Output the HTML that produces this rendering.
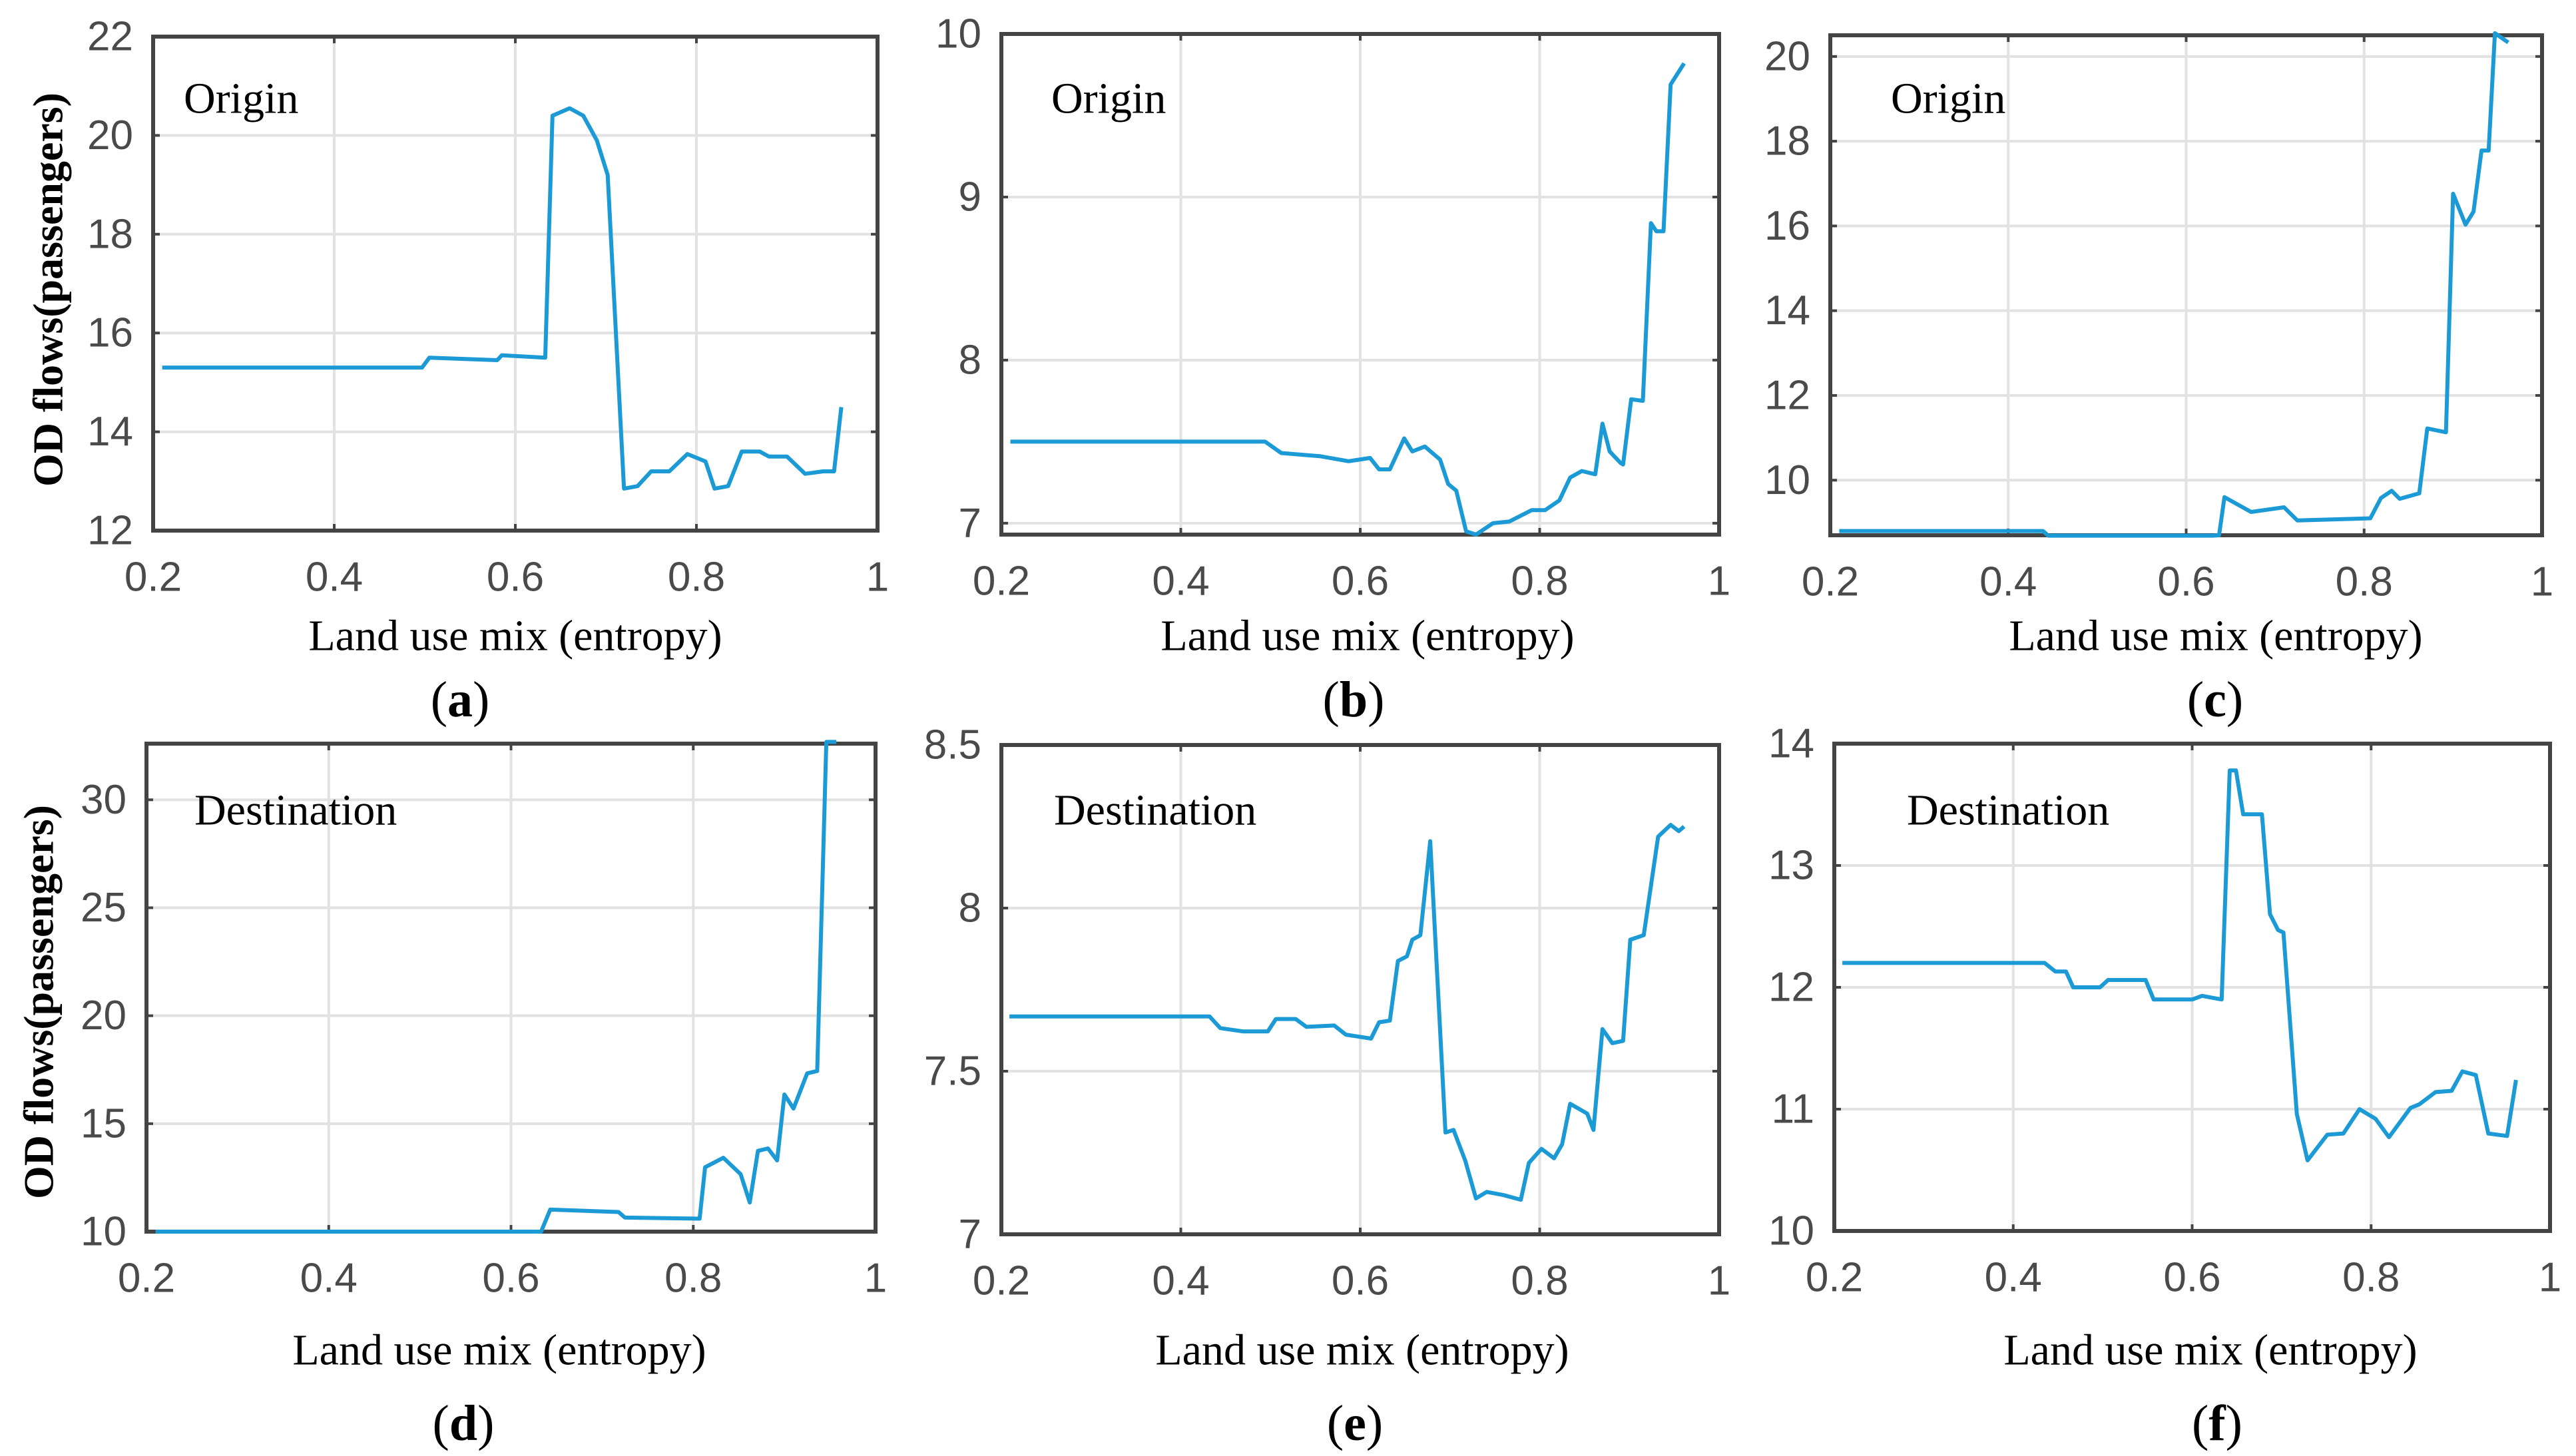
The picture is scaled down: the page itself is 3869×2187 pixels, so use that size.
<!DOCTYPE html>
<html><head><meta charset="utf-8"><style>
html,body{margin:0;padding:0;background:#fff;}
svg{display:block;}
.tick{font-family:"Liberation Sans",sans-serif;font-size:62px;fill:#4a4a4a;}
.title{font-family:"Liberation Serif",serif;font-size:66px;fill:#000;}
.ytitle{font-family:"Liberation Serif",serif;font-size:64px;fill:#000;font-weight:bold;}
.plab{font-family:"Liberation Serif",serif;font-size:76px;fill:#000;}
</style></head><body>
<svg id="fig" width="3869" height="2187" viewBox="0 0 3869 2187" xmlns="http://www.w3.org/2000/svg"></svg>
<script>
const xTicks = [0.2, 0.4, 0.6, 0.8, 1];
const xTickLabels = ["0.2", "0.4", "0.6", "0.8", "1"];
const xsA = [0.21,0.497,0.505,0.58,0.585,0.633,0.641,0.66,0.675,0.69,0.702,0.72,0.735,0.75,0.77,0.79,0.81,0.82,0.835,0.85,0.87,0.88,0.90,0.92,0.94,0.952,0.96];
const ysA = [15.3,15.3,15.5,15.45,15.55,15.5,20.4,20.55,20.4,19.9,19.2,12.85,12.9,13.2,13.2,13.55,13.4,12.85,12.9,13.6,13.6,13.5,13.5,13.15,13.2,13.2,14.5];
const xsB = [0.21,0.494,0.512,0.556,0.587,0.611,0.621,0.633,0.649,0.658,0.672,0.689,0.698,0.707,0.718,0.729,0.748,0.766,0.791,0.806,0.822,0.834,0.847,0.862,0.870,0.878,0.890,0.893,0.902,0.915,0.924,0.930,0.938,0.946,0.961];
const ysB = [7.5,7.5,7.43,7.41,7.38,7.4,7.33,7.33,7.52,7.44,7.47,7.39,7.24,7.2,6.95,6.93,7.0,7.01,7.08,7.08,7.14,7.28,7.32,7.3,7.61,7.44,7.37,7.36,7.76,7.75,8.84,8.79,8.79,9.69,9.82];
const xsC = [0.21,0.439,0.445,0.63,0.637,0.643,0.673,0.71,0.725,0.807,0.819,0.831,0.84,0.862,0.871,0.892,0.9,0.914,0.923,0.932,0.94,0.947,0.962];
const ysC = [8.8,8.8,8.69,8.69,8.7,9.6,9.25,9.36,9.05,9.1,9.58,9.75,9.56,9.69,11.22,11.13,16.76,16.03,16.34,17.78,17.78,20.55,20.33];
const xsD = [0.21,0.633,0.643,0.718,0.725,0.807,0.813,0.833,0.852,0.862,0.871,0.882,0.892,0.9,0.91,0.925,0.936,0.946,0.957];
const ysD = [10.0,10.0,11.02,10.91,10.65,10.6,12.98,13.42,12.66,11.35,13.74,13.85,13.3,16.35,15.7,17.33,17.44,32.68,32.68];
const xsE = [0.209,0.432,0.444,0.469,0.497,0.506,0.528,0.54,0.571,0.584,0.612,0.621,0.633,0.642,0.652,0.658,0.667,0.678,0.695,0.704,0.717,0.729,0.741,0.76,0.779,0.788,0.802,0.816,0.825,0.834,0.853,0.86,0.87,0.881,0.893,0.901,0.916,0.932,0.946,0.955,0.961];
const ysE = [7.668,7.668,7.632,7.622,7.622,7.66,7.66,7.636,7.64,7.612,7.6,7.65,7.655,7.838,7.852,7.903,7.917,8.205,7.312,7.32,7.226,7.11,7.13,7.12,7.106,7.219,7.262,7.233,7.276,7.40,7.37,7.32,7.629,7.586,7.593,7.903,7.917,8.219,8.255,8.236,8.25];
const xsF = [0.209,0.435,0.447,0.459,0.467,0.497,0.506,0.548,0.557,0.6,0.611,0.633,0.642,0.649,0.657,0.678,0.687,0.696,0.702,0.717,0.729,0.751,0.769,0.787,0.805,0.82,0.844,0.854,0.872,0.89,0.902,0.917,0.931,0.952,0.962];
const ysF = [12.2,12.2,12.13,12.13,12.0,12.0,12.06,12.06,11.9,11.9,11.93,11.9,13.78,13.78,13.42,13.42,12.6,12.47,12.45,10.96,10.58,10.79,10.8,11.0,10.92,10.77,11.01,11.04,11.14,11.15,11.31,11.28,10.8,10.78,11.24];
const yTicksA = [12,14,16,18,20,22];
const yTicksB = [7,8,9,10];
const yTicksC = [10,12,14,16,18,20];
const yTicksD = [10,15,20,25,30];
const yTicksE = [7,7.5,8,8.5];
const yTickLabelsE = ["7","7.5","8","8.5"];
const yTicksF = [10,11,12,13,14];

const NS = "http://www.w3.org/2000/svg";
const svg = document.getElementById('fig');
function mk(tag, attrs, parent){
  const e = document.createElementNS(NS, tag);
  for (const k in attrs) e.setAttribute(k, attrs[k]);
  (parent||svg).appendChild(e);
  return e;
}
const panels = [
  {id:'a', L:230,R:1318,T:55,B:797, y0:12,y1:22, xs:xsA, ys:ysA, yt:yTicksA, ytl:null, label:'Origin', lx:276, ly:148, tx:774, ty:955, px:691, py:1051, ytitle:true, ytx:72, yty:435},
  {id:'b', L:1504,R:2582,T:51,B:803, y0:6.93,y1:10, xs:xsB, ys:ysB, yt:yTicksB, ytl:null, label:'Origin', lx:1579, ly:148, tx:2054, ty:955, px:2033, py:1051},
  {id:'c', L:2749,R:3818,T:53,B:804, y0:8.7,y1:20.5, xs:xsC, ys:ysC, yt:yTicksC, ytl:null, label:'Origin', lx:2840, ly:148, tx:3328, ty:955, px:3327, py:1051},
  {id:'d', L:220,R:1315,T:1117,B:1850, y0:10,y1:32.6, xs:xsD, ys:ysD, yt:yTicksD, ytl:null, label:'Destination', lx:292, ly:1217, tx:750, ty:2028, px:696, py:2138, ytitle:true, ytx:58, yty:1505},
  {id:'e', L:1504,R:2582,T:1119,B:1854, y0:7,y1:8.5, xs:xsE, ys:ysE, yt:yTicksE, ytl:yTickLabelsE, label:'Destination', lx:1583, ly:1217, tx:2046, ty:2028, px:2035, py:2138},
  {id:'f', L:2755,R:3830,T:1117,B:1849, y0:10,y1:14, xs:xsF, ys:ysF, yt:yTicksF, ytl:null, label:'Destination', lx:2864, ly:1217, tx:3320, ty:2028, px:3330, py:2138}
];
panels.forEach(p=>{
  const g = mk('g',{});
  
  
  const xf = v => p.L + (v-0.2)/(1-0.2)*(p.R-p.L);
  const yf = v => p.B - (v-p.y0)/(p.y1-p.y0)*(p.B-p.T);
  const cp = mk('clipPath',{id:'clip-'+p.id}, g);
  mk('rect',{x:p.L,y:p.T-6,width:p.R-p.L,height:p.B-p.T+12}, cp);
  xTicks.forEach((t,i)=>{
    const X = xf(t);
    if (i>0 && i<xTicks.length-1){
      const gl = mk('line',{x1:X,x2:X,y1:p.T,y2:p.B,stroke:'#e2e2e2','stroke-width':4}, g);
      
      
      mk('line',{x1:X,x2:X,y1:p.B,y2:p.B-10,stroke:'#444','stroke-width':4}, g);
      mk('line',{x1:X,x2:X,y1:p.T,y2:p.T+10,stroke:'#444','stroke-width':4}, g);
    }
    const tl = mk('text',{x:X,y:(p.B+70),'text-anchor':'middle','dominant-baseline':'central',class:'tick'}, g);
    tl.textContent = xTickLabels[i];
    
    
  });
  p.yt.forEach((t,i)=>{
    const Y = yf(t);
    if (Y > p.T+3 && Y < p.B-3){
      const gl = mk('line',{x1:p.L,x2:p.R,y1:Y,y2:Y,stroke:'#e2e2e2','stroke-width':4}, g);
      
      
      mk('line',{x1:p.L,x2:p.L+10,y1:Y,y2:Y,stroke:'#444','stroke-width':4}, g);
      mk('line',{x1:p.R,x2:p.R-10,y1:Y,y2:Y,stroke:'#444','stroke-width':4}, g);
    }
    const tl = mk('text',{x:p.L-30,y:Y,'text-anchor':'end','dominant-baseline':'central',class:'tick'}, g);
    tl.textContent = p.ytl ? p.ytl[i] : String(t);
    
    
  });
  const box = mk('rect',{x:p.L,y:p.T,width:p.R-p.L,height:p.B-p.T,fill:'none',stroke:'#444','stroke-width':6}, g);
  
  
  const d = p.xs.map((x,i)=>(i?'L':'M')+xf(x).toFixed(1)+','+yf(p.ys[i]).toFixed(1)).join(' ');
  const path = mk('path',{d:d,fill:'none',stroke:'#1b9ad6','stroke-width':6,'stroke-linejoin':'round','clip-path':'url(#clip-'+p.id+')'}, g);
  
  
  const lab = mk('text',{x:p.lx,y:p.ly,'dominant-baseline':'central',class:'title'}, g);
  lab.textContent = p.label;
  
  
  const xt = mk('text',{x:p.tx,y:p.ty,'text-anchor':'middle','dominant-baseline':'central',class:'title'}, g);
  xt.textContent = 'Land use mix (entropy)';
  
  
  const pl = mk('text',{x:p.px,y:p.py,'text-anchor':'middle','dominant-baseline':'central',class:'plab'}, g);
  pl.innerHTML = '(<tspan font-weight="bold">'+p.id+'</tspan>)';
  
  
  if (p.ytitle){
    const yt = mk('text',{x:0,y:0,'text-anchor':'middle','dominant-baseline':'central',class:'ytitle',transform:'translate('+p.ytx+','+p.yty+') rotate(-90)'}, g);
    yt.textContent = 'OD flows(passengers)';
    
    
  }
});
</script>
</body></html>
